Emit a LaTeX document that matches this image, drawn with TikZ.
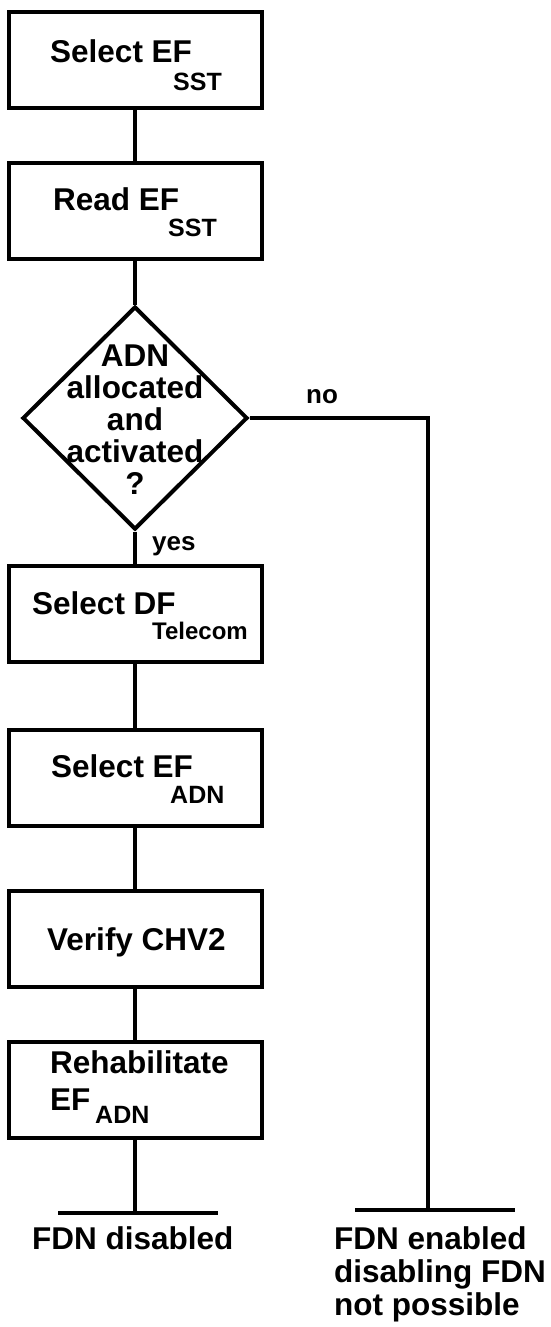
\documentclass[tikz,border=0pt]{standalone}
\usepackage{fontspec}
\setmainfont{Liberation Sans}
\usetikzlibrary{shapes.geometric}

\tikzset{
  stepbox/.style={draw, line width=4pt, minimum width=253pt, minimum height=96pt, inner sep=0pt},
  decision/.style={draw, diamond, line width=4pt, minimum width=225pt, minimum height=223pt, inner sep=0pt},
  link/.style={line width=4pt},
  bigtxt/.style={font=\fontsize{31.5}{32}\selectfont\bfseries, inner sep=0pt},
  subtxt/.style={font=\fontsize{25}{26}\selectfont\bfseries, inner sep=0pt},
  lbltxt/.style={font=\fontsize{26}{28}\selectfont\bfseries, inner sep=0pt}
}

\begin{document}
\begin{tikzpicture}[x=1pt, y=-1pt]
\useasboundingbox (0,0) rectangle (551,1327);

% Boxes and decision
\node[stepbox] (selsst) at (135,60.5) {};
\node[stepbox] (readsst) at (135,210.5) {};
\node[decision] (adn) at (135,418) {};
\node[stepbox] (seltel) at (135,613.5) {};
\node[stepbox] (seladn) at (135,777.5) {};
\node[stepbox] (chv) at (135,938.5) {};
\node[stepbox] (rehab) at (135,1089.5) {};

% Box texts
\node[bigtxt, anchor=base west] (selsstT) at (50,63) {Select EF};
\node[subtxt, anchor=base west] (selsstS) at (173,91) {SST};
\node[bigtxt, anchor=base west] (readsstT) at (53,210) {Read EF};
\node[subtxt, anchor=base west] (readsstS) at (168,236) {SST};
\node[bigtxt, anchor=north, align=center] (adnT) at (135,344.5) {ADN\\allocated\\and\\activated\\?};
\node[bigtxt, anchor=base west] (seltelT) at (32,614) {Select DF};
\node[subtxt, font=\fontsize{24}{26}\selectfont\bfseries, anchor=base west] (seltelS) at (152,639) {Telecom};
\node[bigtxt, anchor=base west] (seladnT) at (51,777) {Select EF};
\node[subtxt, anchor=base west] (seladnS) at (170,803) {ADN};
\node[bigtxt, anchor=base west] (chvT) at (47,950) {Verify CHV2};
\node[bigtxt, anchor=base west] (rehabT) at (50,1073) {Rehabilitate};
\node[bigtxt, anchor=base west] (rehabE) at (50,1110) {EF};
\node[subtxt, anchor=base west] (rehabS) at (95,1123) {ADN};

% Branch labels
\node[lbltxt, anchor=base west] (no) at (306,403) {no};
\node[lbltxt, anchor=base west] (yes) at (152,550) {yes};

% Ends
\coordinate (endL) at (135,1213);
\coordinate (endR) at (428,1210);
\coordinate (turn) at (428,418);
\draw[link] (58,1213) -- (218,1213);
\draw[link] (355,1210) -- (515,1210);
\node[bigtxt, anchor=base west] (fdnoff) at (32,1249) {FDN disabled};
\node[bigtxt, anchor=north west, align=left, font=\fontsize{31.5}{33}\selectfont\bfseries] (fdnon) at (334,1226.5) {FDN enabled\\disabling FDN\\not possible};

% Connectors
\draw[link] (selsst) -- (readsst);
\draw[link] (readsst) -- (adn.north);
\draw[link] (adn.south) -- (seltel);
\draw[link] (seltel) -- (seladn);
\draw[link] (seladn) -- (chv);
\draw[link] (chv) -- (rehab);
\draw[link] (rehab) -- (endL);
\draw[link] (adn.east) -- (turn) -- (endR);
\end{tikzpicture}
\end{document}
